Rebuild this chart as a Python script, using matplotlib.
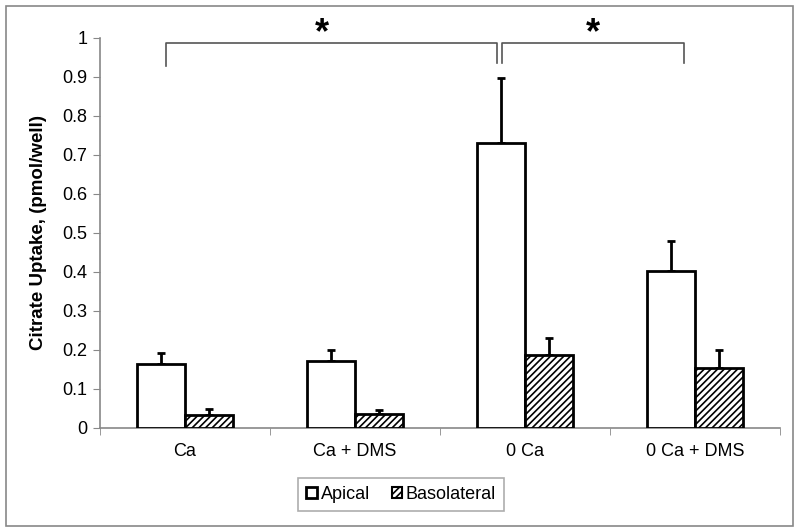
import matplotlib
matplotlib.use("Agg")
import matplotlib.pyplot as plt
import numpy as np
from matplotlib.patches import Rectangle, Patch

categories = ["Ca", "Ca + DMS", "0 Ca", "0 Ca + DMS"]
apical = [0.163, 0.172, 0.730, 0.403]
apical_err = [0.030, 0.029, 0.167, 0.077]
baso = [0.034, 0.035, 0.187, 0.153]
baso_err = [0.015, 0.011, 0.044, 0.047]
yticks = [0, 0.1, 0.2, 0.3, 0.4, 0.5, 0.6, 0.7, 0.8, 0.9, 1]
ytick_labels = ["0", "0.1", "0.2", "0.3", "0.4", "0.5", "0.6", "0.7", "0.8", "0.9", "1"]

plt.rcParams['font.family'] = ['Liberation Sans', 'DejaVu Sans']
plt.rcParams['hatch.linewidth'] = 1.2

fig = plt.figure(figsize=(8, 5.32), dpi=100)
ax = fig.add_axes([0.125, 0.1955, 0.85, 0.7331])

x = np.arange(len(categories))
w = 0.285
b1 = ax.bar(x - w/2, apical, w, color='white', edgecolor='black', linewidth=2, zorder=3)
b2 = ax.bar(x + w/2, baso, w, color='white', edgecolor='black', linewidth=2, hatch='/////', zorder=3)
ax.errorbar(x - w/2, apical, yerr=[np.zeros(4), apical_err], fmt='none', ecolor='black',
            elinewidth=2, capsize=3, capthick=2, zorder=2)
ax.errorbar(x + w/2, baso, yerr=[np.zeros(4), baso_err], fmt='none', ecolor='black',
            elinewidth=2, capsize=3, capthick=2, zorder=2)

ax.set_xlim(-0.5, 3.5)
ax.set_ylim(0, 1)
ax.set_yticks(yticks)
ax.set_yticklabels(ytick_labels, fontsize=13)
ax.set_xticks(x)
ax.set_xticklabels(categories, fontsize=13)
ax.set_xticks(np.arange(-0.5, 4, 1), minor=True)
ax.tick_params(axis='x', which='major', length=0, pad=11)
ax.tick_params(axis='x', which='minor', length=5, color='#888888', direction='out')
ax.tick_params(axis='y', length=5, color='#888888', direction='out', pad=4)
for s in ['top', 'right']:
    ax.spines[s].set_visible(False)
for s in ['left', 'bottom']:
    ax.spines[s].set_color('#888888')
    ax.spines[s].set_linewidth(1.2)

ax.set_ylabel("Citrate Uptake, (pmol/well)", fontsize=13.5, fontweight='bold', labelpad=11)

# significance brackets
bk = dict(color='#555555', lw=1.2, clip_on=False)
ax.plot([-0.112, -0.112, 1.835, 1.835], [0.928, 0.987, 0.987, 0.936], **bk)
ax.plot([1.865, 1.865, 2.935, 2.935], [0.936, 0.987, 0.987, 0.936], **bk)
ax.text(0.806, 1.012, "*", fontsize=26, fontweight='bold', ha='center', va='center', clip_on=False)
ax.text(2.40, 1.012, "*", fontsize=26, fontweight='bold', ha='center', va='center', clip_on=False)

handles = [Patch(facecolor='white', edgecolor='black', linewidth=2),
           Patch(facecolor='white', edgecolor='black', linewidth=1.5, hatch='/////')]
leg = fig.legend(handles, ["Apical", "Basolateral"], ncol=2, loc='center',
                 bbox_to_anchor=(0.5015, 0.0705), fontsize=13, frameon=True, fancybox=False,
                 edgecolor='#999999', handlelength=0.6, handleheight=0.6, handletextpad=0.2,
                 columnspacing=1.2, borderpad=0.45)
leg.get_frame().set_linewidth(1.2)

fig.patches.append(Rectangle((0.0075, 0.0113), 0.984, 0.977, transform=fig.transFigure,
                             fill=False, edgecolor='#888888', linewidth=1.2))

fig.savefig("out.png", dpi=100)
